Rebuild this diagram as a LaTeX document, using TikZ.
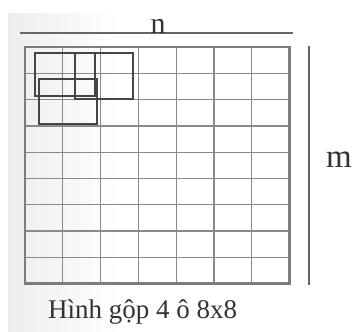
\documentclass[tikz,border=0pt]{standalone}
\usepackage{fontspec}
\setmainfont{Liberation Serif}
\usepackage{xcolor}
\usepackage{tikz}

\definecolor{gridgray}{HTML}{8A8A8A}
\definecolor{poolgray}{HTML}{454545}

\tikzset{
  gridline/.style={draw=gridgray,line width=1.3pt},
  frameline/.style={draw=gridgray!90!black,line width=2.6pt},
  poolbox/.style={draw=poolgray,line width=1.8pt},
  sizeline/.style={draw=gray!80!black,line width=1.4pt},
  label/.style={inner sep=0pt,text=black!80}
}

\begin{document}
\begin{tikzpicture}[x=1pt,y=-1pt]
\useasboundingbox (0,0) rectangle (354,332);
\shade[left color=black!7,right color=white] (8,13) rectangle (120,332);
% grid 7 x 9
\foreach \i in {1,...,6}
  \draw[gridline] ({25+37.8*\i},47) -- ({25+37.8*\i},283.7);
\foreach \j in {1,...,8}
  \draw[gridline] (25,{47+26.3*\j}) -- (289.6,{47+26.3*\j});
\draw[frameline] (25,47) rectangle (289.6,283.7);
% overlapping windows
\draw[poolbox] (35,53) rectangle (95,96);
\draw[poolbox] (75,53) rectangle (133,99);
\draw[poolbox] (39,79) rectangle (97,124);
% size marks
\draw[sizeline] (20,33) -- (293,33);
\node[label,anchor=base,font=\fontsize{30}{32}\selectfont] (n) at (158,33) {n};
\draw[sizeline] (309,46) -- (309,285);
\node[label,anchor=base,font=\fontsize{33}{35}\selectfont] (m) at (339,167) {m};
\node[label,anchor=base west,font=\fontsize{27}{29}\selectfont] (caption) at (48,318) {Hình gộp 4 ô 8x8};
\end{tikzpicture}
\end{document}
